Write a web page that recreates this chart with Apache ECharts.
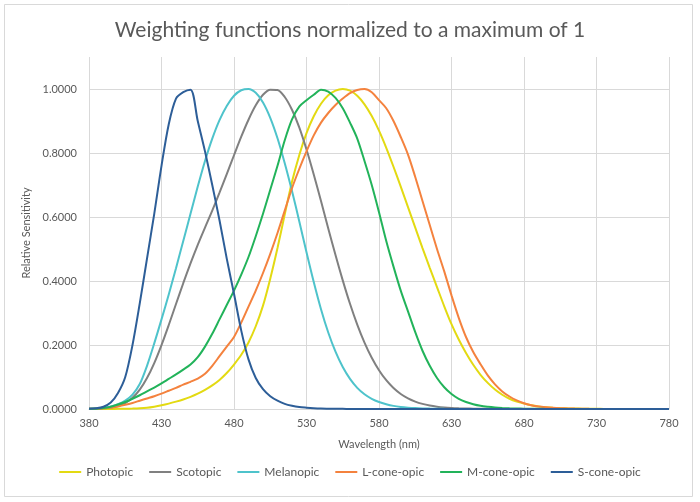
<!DOCTYPE html>
<html>
<head>
<meta charset="utf-8">
<script src="https://cdn.jsdelivr.net/npm/echarts@6.0.0/dist/echarts.min.js"></script>
<style>html,body{margin:0;padding:0;background:#fff}#c{width:700px;height:502px}</style>
</head>
<body>
<div id="c"></div>
<script>
var titleText = 'Weighting functions normalized to a maximum of 1';
var xAxisName = 'Wavelength (nm)';
var yAxisName = 'Relative Sensitivity';
var seriesNames = ['Photopic', 'Scotopic', 'Melanopic', 'L-cone-opic', 'M-cone-opic', 'S-cone-opic'];
var seriesColors = ['#E3DA12', '#808080', '#4EC3CB', '#F4823E', '#22B35A', '#2D5E98'];

var wavelengths = [];
for (var w = 380; w <= 780; w += 5) wavelengths.push(w);

var photopic = [0.000039,0.000064,0.00012,0.000217,0.000396,0.00064,0.00121,0.00218,0.004,0.0073,
0.0116,0.01684,0.023,0.0298,0.038,0.048,0.06,0.0739,0.09098,0.1126,
0.13902,0.1693,0.20802,0.2586,0.323,0.4073,0.503,0.6082,0.71,0.7932,
0.862,0.91485,0.954,0.9803,0.99495,1.0,0.995,0.9786,0.952,0.9154,
0.87,0.8163,0.757,0.6949,0.631,0.5668,0.503,0.4412,0.381,0.321,
0.265,0.217,0.175,0.1382,0.107,0.0816,0.061,0.04458,0.032,0.0232,
0.017,0.01192,0.00821,0.005723,0.004102,0.002929,0.002091,0.001484,0.001047,0.00074,
0.00052,0.000361,0.000249,0.000172,0.00012,0.0000848,0.00006,0.0000424,0.00003,0.0000212,
0.000015];

var scotopic = [0.000589,0.001108,0.002209,0.00453,0.00929,0.01852,0.03484,0.0604,0.0966,0.1436,
0.1998,0.2625,0.3281,0.3931,0.455,0.513,0.567,0.62,0.676,0.734,
0.793,0.851,0.904,0.949,0.982,0.998,0.997,0.975,0.935,0.88,
0.811,0.733,0.65,0.564,0.481,0.402,0.3288,0.2639,0.2076,0.1602,
0.1212,0.0899,0.0655,0.0469,0.03315,0.02312,0.01593,0.01088,0.00737,0.00497,
0.003335,0.002235,0.001497,0.001005,0.000677,0.000459,0.000313,0.000215,0.000148,0.000103,
0.0000715,0.00005,0.000035,0.000025,0.000018,0.000013,0.000009,0.000007,0.000005,0.0000035,
0.0000025,0.000002,0.0000014,0.000001,0.0000008,0.0000006,0.0000004,0.0000003,0.0000002,0.0000002,
0.0000001];

var melanopic = [0.001,0.002,0.004,0.008,0.015,0.026,0.045,0.078,0.135,0.205,
0.28,0.358,0.44,0.525,0.61,0.695,0.775,0.845,0.903,0.947,
0.979,0.996,1.0,0.988,0.958,0.91,0.846,0.768,0.681,0.587,
0.49,0.397,0.312,0.239,0.179,0.131,0.094,0.066,0.046,0.032,
0.022,0.015,0.0098,0.0065,0.0043,0.0028,0.0018,0.0012,0.0008,0.0005,
0.0003,0.0002,0.00015,0.0001,0.00007,0,0,0,0,0,
0,0,0,0,0,0,0,0,0,0,
0,0,0,0,0,0,0,0,0,0,
0];

var lCone = [0.0005,0.001,0.002,0.004,0.008,0.013,0.019,0.026,0.033,0.04,
0.048,0.057,0.066,0.076,0.085,0.095,0.11,0.135,0.165,0.195,
0.225,0.27,0.32,0.37,0.425,0.485,0.55,0.62,0.69,0.75,
0.805,0.855,0.895,0.925,0.95,0.97,0.987,0.997,1.0,0.99,
0.965,0.94,0.9,0.85,0.795,0.725,0.65,0.575,0.5,0.43,
0.355,0.285,0.225,0.178,0.14,0.105,0.077,0.055,0.039,0.027,
0.018,0.012,0.008,0.0055,0.0037,0.0025,0.0017,0.0012,0.0008,0.0005,
0.0003,0.0002,0.0001,0,0,0,0,0,0,0,
0];

var mCone = [0.0005,0.001,0.003,0.007,0.014,0.022,0.032,0.043,0.055,0.067,
0.08,0.094,0.108,0.123,0.139,0.162,0.195,0.235,0.28,0.325,
0.37,0.42,0.475,0.54,0.61,0.685,0.76,0.84,0.905,0.945,
0.965,0.982,0.998,0.992,0.972,0.94,0.895,0.845,0.775,0.7,
0.615,0.525,0.445,0.37,0.305,0.24,0.182,0.135,0.097,0.068,
0.047,0.032,0.022,0.015,0.01,0.007,0.0048,0.0033,0.0022,0.0015,
0.001,0.0007,0.0005,0.0003,0.0002,0.0001,0,0,0,0,
0,0,0,0,0,0,0,0,0,0,
0];

var sCone = [0.0005,0.002,0.007,0.02,0.05,0.1,0.2,0.33,0.47,0.61,
0.76,0.89,0.97,0.99,0.998,0.9,0.805,0.7,0.59,0.47,
0.36,0.245,0.155,0.097,0.062,0.04,0.026,0.016,0.01,0.006,
0.004,0.0025,0.0015,0.001,0.0006,0.0004,0.0002,0.0001,0,0,
0,0,0,0,0,0,0,0,0,0,
0,0,0,0,0,0,0,0,0,0,
0,0,0,0,0,0,0,0,0,0,
0,0,0,0,0,0,0,0,0,0,
0];

var seriesValues = [photopic, scotopic, melanopic, lCone, mCone, sCone];

var chart = echarts.init(document.getElementById('c'), null, {renderer: 'canvas'});
var font = 'Lato, "Open Sans", sans-serif';
var textColor = '#595959';
var gridColor = '#D9D9D9';

var series = seriesNames.map(function (name, k) {
  return {
    name: name,
    type: 'line',
    data: wavelengths.map(function (x, i) { return [x, seriesValues[k][i]]; }),
    smooth: 0.3,
    symbol: 'none',
    lineStyle: { width: 2, color: seriesColors[k] },
    itemStyle: { color: seriesColors[k] },
    emphasis: { disabled: true }
  };
});

chart.setOption({
  animation: false,
  backgroundColor: '#ffffff',
  textStyle: { fontFamily: font },
  title: {
    text: titleText,
    left: 'center',
    top: 15,
    textStyle: { fontFamily: font, fontSize: 21, fontWeight: 'normal', color: textColor }
  },
  graphic: [{
    type: 'rect',
    shape: { x: 4.5, y: 4.5, width: 688, height: 492 },
    style: { fill: 'none', stroke: gridColor, lineWidth: 1 },
    silent: true,
    z: -10
  }],
  grid: { left: 89, right: 31, top: 57, bottom: 93, containLabel: false },
  xAxis: {
    type: 'value',
    min: 380,
    max: 780,
    interval: 50,
    name: xAxisName,
    nameLocation: 'middle',
    nameGap: 30,
    nameTextStyle: { fontFamily: font, fontSize: 11, color: textColor },
    axisLine: { show: true, lineStyle: { color: gridColor, width: 1 } },
    axisTick: { show: false },
    axisLabel: { fontFamily: font, fontSize: 11, color: textColor, margin: 9 },
    splitLine: { show: true, lineStyle: { color: gridColor, width: 1 } }
  },
  yAxis: {
    type: 'value',
    min: 0,
    max: 1.1,
    interval: 0.2,
    name: yAxisName,
    nameLocation: 'middle',
    nameGap: 56,
    nameRotate: 90,
    nameTextStyle: { fontFamily: font, fontSize: 11, color: textColor },
    axisLine: { show: false },
    axisTick: { show: false },
    axisLabel: {
      fontFamily: font, fontSize: 11, color: textColor, margin: 12,
      showMaxLabel: false,
      formatter: function (v) { return v > 1.05 ? '' : v.toFixed(4); }
    },
    splitLine: { show: true, showMaxLine: false, lineStyle: { color: gridColor, width: 1 } }
  },
  legend: {
    data: seriesNames,
    left: 'center',
    bottom: 19,
    icon: 'rect',
    itemWidth: 22,
    itemHeight: 2,
    itemGap: 16,
    textStyle: { fontFamily: font, fontSize: 12, color: textColor },
    selectedMode: false
  },
  series: series
});
</script>
</body>
</html>
